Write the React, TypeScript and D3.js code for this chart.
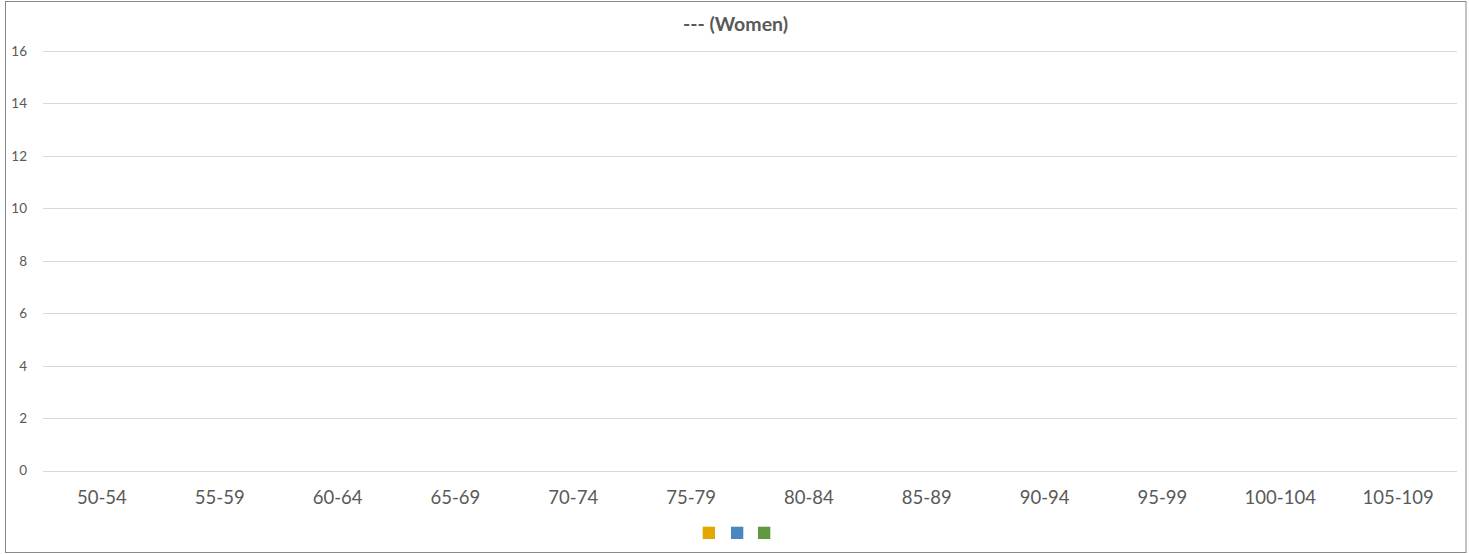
import React from "react";
import * as d3 from "d3";

const title = "--- (Women)";
const categories = ["50-54", "55-59", "60-64", "65-69", "70-74", "75-79", "80-84", "85-89", "90-94", "95-99", "100-104", "105-109"];
const yTicks = [0, 2, 4, 6, 8, 10, 12, 14, 16];
const seriesNames = ["", "", ""];
const seriesColors = ["#E3A700", "#4A87C0", "#5E983F"];
// No values are shown in the reference chart (empty series)
const seriesA: (number | null)[] = categories.map(() => null);
const seriesB: (number | null)[] = categories.map(() => null);
const seriesC: (number | null)[] = categories.map(() => null);
const seriesValues = [seriesA, seriesB, seriesC];

const W = 1469, H = 554;
const FONT = "Lato, 'Open Sans', sans-serif";

export default function App() {
  const x = d3.scaleBand<string>().domain(categories).range([43, 1457]);
  const y = d3.scaleLinear().domain([0, 16]).range([470.7, 51]);
  const inner = d3.scaleBand<number>().domain(d3.range(seriesValues.length)).range([0, x.bandwidth()]).paddingOuter(0.3);
  const legendX = [702.7, 731, 758];
  return (
    <svg width={W} height={H} style={{ position: "absolute", left: 0, top: 0, background: "#fff" }}>
      <rect x={5.5} y={1.5} width={1460.5} height={551} fill="#fff" stroke="#898989" strokeWidth={1} />
      <text x={735.5} y={31} textAnchor="middle" fontFamily={FONT} fontWeight="bold" fontSize={19.5} fill="#595959">{title}</text>
      {yTicks.map((t) => (
        <g key={t}>
          <line x1={43} x2={1457} y1={Math.round(y(t)) + 0.5} y2={Math.round(y(t)) + 0.5} stroke="#d9d9d9" strokeWidth={1} />
          <text x={27} y={y(t)} dy="0.35em" textAnchor="end" fontFamily={FONT} fontSize={13.5} fill="#595959">{t}</text>
        </g>
      ))}
      {seriesValues.map((vals, si) =>
        vals.map((v, ci) =>
          v == null ? null : (
            <rect key={`${si}-${ci}`} x={(x(categories[ci]) ?? 0) + (inner(si) ?? 0)} width={inner.bandwidth()} y={y(v)} height={y(0) - y(v)} fill={seriesColors[si]} />
          )
        )
      )}
      {categories.map((c) => (
        <text key={c} x={(x(c) ?? 0) + x.bandwidth() / 2} y={498} dy="0.35em" textAnchor="middle" fontFamily={FONT} fontSize={18.5} fill="#595959">{c}</text>
      ))}
      {seriesNames.map((n, i) => (
        <g key={i}>
          <rect x={legendX[i]} y={526.7} width={12.3} height={12.3} fill={seriesColors[i]} />
          <text x={legendX[i] + 16} y={533} dy="0.35em" fontFamily={FONT} fontSize={13.5} fill="#595959">{n}</text>
        </g>
      ))}
    </svg>
  );
}
